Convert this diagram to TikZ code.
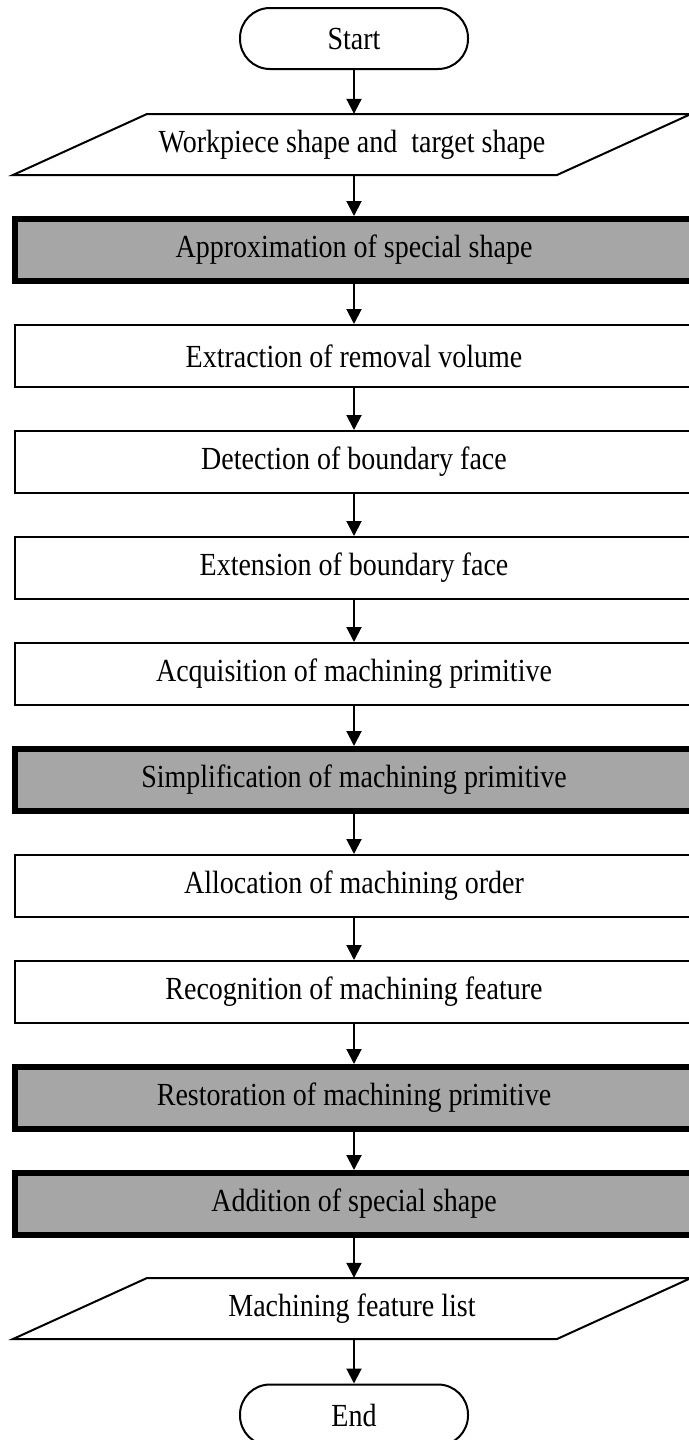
\documentclass[tikz,border=0pt]{standalone}
\usepackage{fontspec}
\usepackage{graphicx}
\setmainfont{Liberation Serif}
\usetikzlibrary{arrows.meta,calc}
\definecolor{boxgray}{RGB}{166,166,166}
\newcommand{\vtext}[1]{\scalebox{1}[1.15]{#1}}
\begin{document}
\begin{tikzpicture}[x=1pt,y=1pt,
  every node/.style={font=\fontsize{28}{32}\selectfont, inner sep=0pt},
  proc/.style={draw, line width=2pt, minimum width=678pt, minimum height=62pt},
  hl/.style={proc, fill=boxgray, line width=6pt},
  term/.style={draw, line width=2pt, minimum width=228pt, minimum height=61pt, rounded corners=30pt},
  iotext/.style={minimum width=544pt, minimum height=61pt},
  ioline/.style={line width=2pt},
  flow/.style={-{Triangle[length=15pt,width=15pt]}, line width=2pt}]
\useasboundingbox (0,0) rectangle (688,-1440);

\node[term] (start) at (354,-38.5) {\vtext{Start}};
\node[iotext] (in) at (352,-144.5) {\vtext{Workpiece shape and~ target shape}};
\draw[ioline] ($(in.center)+(-339,-30.5)$) -- ($(in.center)+(205,-30.5)$) -- ($(in.center)+(339,30.5)$) -- ($(in.center)+(-205,30.5)$) -- cycle;

\node[hl]   (p1)  at (354,-250)  {\vtext{Approximation of special shape}};
\node[proc] (p2)  at (354,-356)  {\vtext{Extraction of removal volume}};
\node[proc] (p3)  at (354,-462)  {\vtext{Detection of boundary face}};
\node[proc] (p4)  at (354,-568)  {\vtext{Extension of boundary face}};
\node[proc] (p5)  at (354,-674)  {\vtext{Acquisition of machining primitive}};
\node[hl]   (p6)  at (354,-780)  {\vtext{Simplification of machining primitive}};
\node[proc] (p7)  at (354,-886)  {\vtext{Allocation of machining order}};
\node[proc] (p8)  at (354,-992)  {\vtext{Recognition of machining feature}};
\node[hl]   (p9)  at (354,-1098) {\vtext{Restoration of machining primitive}};
\node[hl]   (p10) at (354,-1204) {\vtext{Addition of special shape}};

\node[iotext] (out) at (352,-1308.5) {\vtext{Machining feature list}};
\draw[ioline] ($(out.center)+(-339,-30.5)$) -- ($(out.center)+(205,-30.5)$) -- ($(out.center)+(339,30.5)$) -- ($(out.center)+(-205,30.5)$) -- cycle;

\node[term] (end) at (354,-1415) {\vtext{End}};

\draw[flow] (start) -- (start |- in.north);
\draw[flow] (in.south -| p1) -- (p1);
\draw[flow] (p1) -- (p2);
\draw[flow] (p2) -- (p3);
\draw[flow] (p3) -- (p4);
\draw[flow] (p4) -- (p5);
\draw[flow] (p5) -- (p6);
\draw[flow] (p6) -- (p7);
\draw[flow] (p7) -- (p8);
\draw[flow] (p8) -- (p9);
\draw[flow] (p9) -- (p10);
\draw[flow] (p10) -- (p10 |- out.north);
\draw[flow] (out.south -| end) -- (end);
\end{tikzpicture}
\end{document}
